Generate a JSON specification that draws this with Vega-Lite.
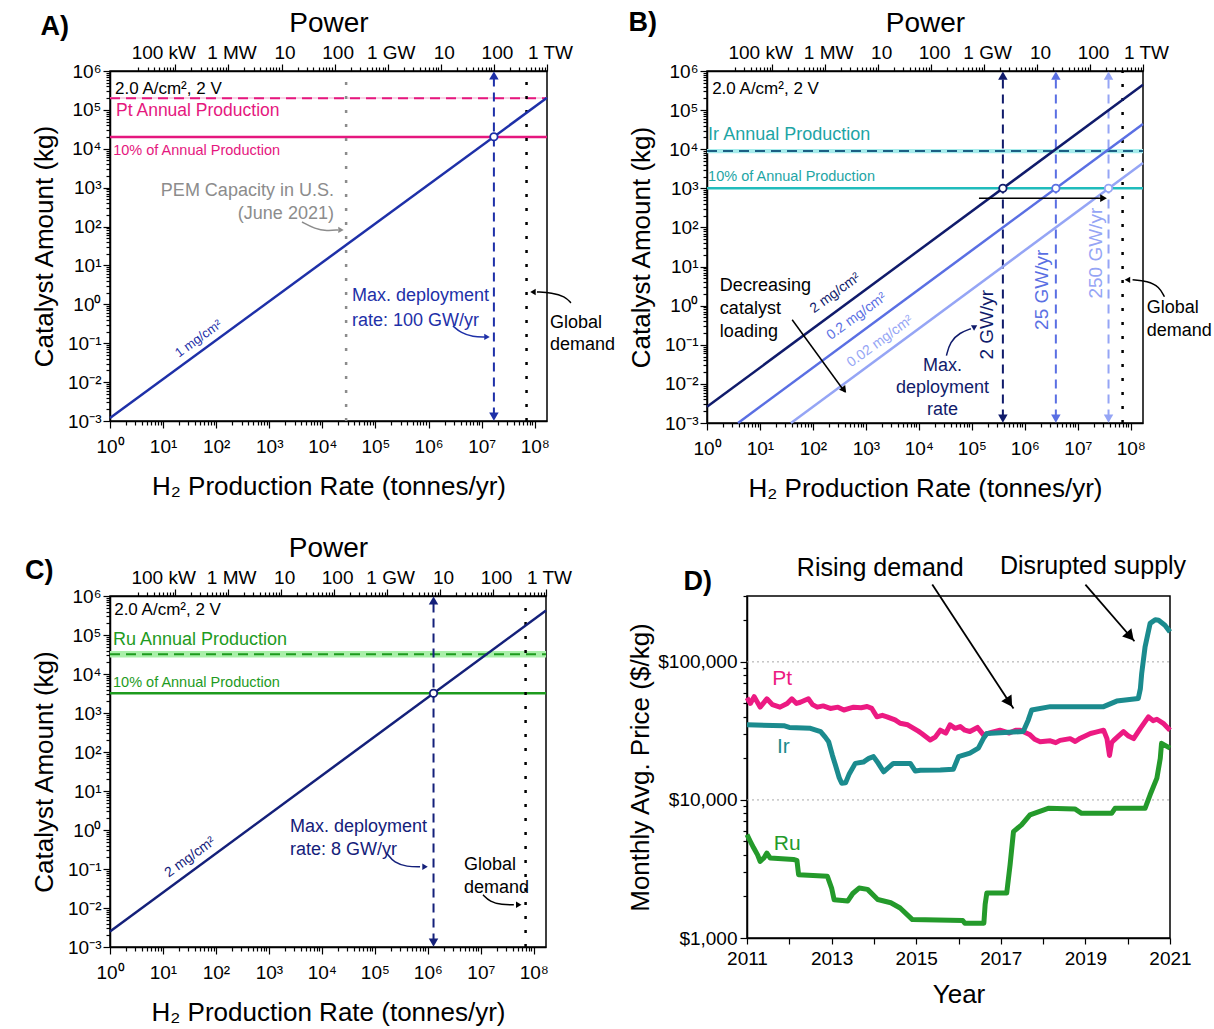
{
"$schema": "https://vega.github.io/schema/vega-lite/v6.json",
"background": "white",
"padding": {"left": 24, "top": 8, "right": 0, "bottom": 2},
"columns": 2,
"spacing": {"row": 31, "column": 11},
"align": {"row": "each", "column": "none"},
"bounds": "full",
"resolve": {"scale": {"color": "independent", "stroke": "independent"}},
"config": {
  "font": "Liberation Sans",
  "view": {"stroke": "black", "strokeWidth": 1.5},
  "axis": {"labelFont": "Liberation Sans", "titleFont": "Liberation Sans", "labelFontSize": 19, "titleFontSize": 26, "titleFontWeight": "normal", "labelColor": "black", "titleColor": "black", "domainColor": "black", "tickColor": "black", "domainWidth": 1.5, "tickWidth": 1.2, "grid": false},
  "text": {"font": "Liberation Sans"}
},
"concat": [
{
 "width": 437, "height": 350,
 "resolve": {"axis": {"x": "independent"}},
 "encoding": {
  "x": {"field": "x", "type": "quantitative", "scale": {"type": "log", "domain": [1, 170000000], "nice": false}, "axis": null},
  "y": {"field": "y", "type": "quantitative", "scale": {"type": "log", "domain": [0.001, 1000000], "nice": false},
        "axis": {"title": "Catalyst Amount (kg)", "values": [0.001,0.002,0.003,0.004,0.005,0.006,0.007,0.008,0.009,0.01,0.02,0.03,0.04,0.05,0.06,0.07,0.08,0.09,0.1,0.2,0.3,0.4,0.5,0.6,0.7,0.8,0.9,1,2,3,4,5,6,7,8,9,10,20,30,40,50,60,70,80,90,100,200,300,400,500,600,700,800,900,1000,2000,3000,4000,5000,6000,7000,8000,9000,10000,20000,30000,40000,50000,60000,70000,80000,90000,100000,200000,300000,400000,500000,600000,700000,800000,900000,1000000],
          "labelExpr": "abs(log(datum.value)/LN10-round(log(datum.value)/LN10))<0.001 ? '10'+(datum.value<0.9?'⁻':'')+['⁰','¹','²','³','⁴','⁵','⁶','⁷','⁸','⁹'][abs(round(log(datum.value)/LN10))] : ''",
          "tickSize": {"condition": {"test": "abs(log(datum.value)/LN10-round(log(datum.value)/LN10))<0.001", "value": 7}, "value": 4},
          "labelOverlap": false, "labelFlush": false, "labelPadding": 2, "titlePadding": 10}}
 },
 "layer": [
  {"data": {"values": [{"x": 1, "x2": 170000000, "y": 190000, "y2": 215000}]},
   "mark": {"type": "rect", "color": "#f8d3e6"},
   "encoding": {"x": {"field": "x", "type": "quantitative", "scale": {"type": "log", "domain": [1, 170000000], "nice": false},
      "axis": {"orient": "bottom", "title": "H₂ Production Rate (tonnes/yr)", "values": [1,2,3,4,5,6,7,8,9,10,20,30,40,50,60,70,80,90,100,200,300,400,500,600,700,800,900,1000,2000,3000,4000,5000,6000,7000,8000,9000,10000,20000,30000,40000,50000,60000,70000,80000,90000,100000,200000,300000,400000,500000,600000,700000,800000,900000,1000000,2000000,3000000,4000000,5000000,6000000,7000000,8000000,9000000,10000000,20000000,30000000,40000000,50000000,60000000,70000000,80000000,90000000,100000000],
        "labelExpr": "abs(log(datum.value)/LN10-round(log(datum.value)/LN10))<0.001 ? '10'+(datum.value<0.9?'⁻':'')+['⁰','¹','²','³','⁴','⁵','⁶','⁷','⁸','⁹'][abs(round(log(datum.value)/LN10))] : ''",
        "tickSize": {"condition": {"test": "abs(log(datum.value)/LN10-round(log(datum.value)/LN10))<0.001", "value": 7}, "value": 4},
        "labelOverlap": false, "labelFlush": false, "labelPadding": 9, "titlePadding": 17}},
     "x2": {"field": "x2"}, "y2": {"field": "y2"}}},
  {"data": {"values": [{"x": 1, "x2": 170000000, "y": 200000}]},
   "mark": {"type": "rule", "color": "#e5177e", "strokeWidth": 2, "strokeDash": [10, 6]},
   "encoding": {"x2": {"field": "x2"}}},
  {"data": {"values": [{"x": 1, "x2": 170000000, "y": 20000}]},
   "mark": {"type": "rule", "color": "#e5177e", "strokeWidth": 2.5},
   "encoding": {"x2": {"field": "x2"}}},
  {"data": {"values": [{"x": 28000, "y": 0.001, "y2": 1000000}]},
   "mark": {"type": "rule", "color": "#8c8c8c", "strokeWidth": 2.5, "strokeDash": [3, 11]},
   "encoding": {"y2": {"field": "y2"}}},
  {"data": {"values": [{"x": 70000000, "y": 0.001, "y2": 1000000}]},
   "mark": {"type": "rule", "color": "#000000", "strokeWidth": 2.5, "strokeDash": [3, 11]},
   "encoding": {"y2": {"field": "y2"}}},
  {"data": {"values": [{"x": 17000000, "y": 0.0013, "y2": 766000}]},
   "mark": {"type": "rule", "color": "#1e30a8", "strokeWidth": 2, "strokeDash": [9, 6]},
   "encoding": {"y2": {"field": "y2"}}},
  {"data": {"values": [{"x": 17000000, "y": 766000}]},
   "mark": {"type": "point", "shape": "triangle-up", "filled": true, "color": "#1e30a8", "size": 90, "opacity": 1}},
  {"data": {"values": [{"x": 17000000, "y": 0.0013}]},
   "mark": {"type": "point", "shape": "triangle-down", "filled": true, "color": "#1e30a8", "size": 90, "opacity": 1}},
  {"data": {"values": [{"x": 1, "y": 0.0012}, {"x": 170000000, "y": 204000}]},
   "mark": {"type": "line", "color": "#1e30a8", "strokeWidth": 2.5},
   "encoding": {"x": {"field": "x", "type": "quantitative", "scale": {"type": "log", "domain": [1, 170000000], "nice": false},
      "axis": {"orient": "top", "title": "Power", "titleFontSize": 28, "values": [3.4,5.1,6.8,8.5,10.2,11.9,13.6,15.3,17,34,51,68,85,102,119,136,153,170,340,510,680,850,1020,1190,1360,1530,1700,3400,5100,6800,8500,10200,11900,13600,15300,17000,34000,51000,68000,85000,102000,119000,136000,153000,170000,340000,510000,680000,850000,1020000,1190000,1360000,1530000,1700000,3400000,5100000,6800000,8500000,10200000,11900000,13600000,15300000,17000000,34000000,51000000,68000000,85000000,102000000,119000000,136000000,153000000,170000000],
        "labelExpr": "datum.value==17?'100 kW':datum.value==170?'1 MW':datum.value==1700?'10':datum.value==17000?'100':datum.value==170000?'1 GW':datum.value==1700000?'10':datum.value==17000000?'100':datum.value==170000000?'1 TW':''",
        "tickSize": {"condition": {"test": "indexof([17,170,1700,17000,170000,1700000,17000000,170000000], datum.value) >= 0", "value": 7}, "value": 4},
        "labelOffset": {"condition": {"test": "datum.value == 17", "value": -12}, "value": 3},
        "labelOverlap": false, "labelFlush": false, "labelPadding": 2, "titlePadding": 6}}}},
  {"data": {"values": [{"x": 17000000, "y": 20400}]},
   "mark": {"type": "point", "shape": "circle", "filled": true, "fill": "white", "stroke": "#1e30a8", "strokeWidth": 1.8, "size": 55, "opacity": 1}},
  {"data": {"values": [{"x": 4130, "y": 131}, {"x": 7260, "y": 86.8}, {"x": 12200, "y": 77}, {"x": 19700, "y": 81.8}]},
   "mark": {"type": "line", "color": "#8c8c8c", "strokeWidth": 1.5, "interpolate": "basis"}},
  {"data": {"values": [{"x": 22400, "y": 81.8}]},
   "mark": {"type": "point", "shape": "triangle-right", "filled": true, "color": "#8c8c8c", "size": 40, "opacity": 1}},
  {"data": {"values": [{"x": 2880000, "y": 0.279}, {"x": 4070000, "y": 0.184}, {"x": 6860000, "y": 0.145}, {"x": 11500000, "y": 0.145}]},
   "mark": {"type": "line", "color": "#1e30a8", "strokeWidth": 1.5, "interpolate": "basis"}},
  {"data": {"values": [{"x": 12600000, "y": 0.145}]},
   "mark": {"type": "point", "shape": "triangle-right", "filled": true, "color": "#1e30a8", "size": 40, "opacity": 1}},
  {"data": {"values": [{"x": 480000000, "y": 1.09}, {"x": 370000000, "y": 1.6}, {"x": 210000000, "y": 2.0}, {"x": 110000000, "y": 2.08}]},
   "mark": {"type": "line", "color": "#000000", "strokeWidth": 1.5, "interpolate": "basis"}},
  {"data": {"values": [{"x": 92500000, "y": 2.08}]},
   "mark": {"type": "point", "shape": "triangle-left", "filled": true, "color": "#000000", "size": 40, "opacity": 1}},
  {"data": {"values": [{"x": 0.049, "y": 13500000, "t": "A)"}]},
   "mark": {"type": "text", "align": "left", "baseline": "middle", "fontSize": 27, "fontWeight": "bold", "color": "black"},
   "encoding": {"text": {"field": "t"}}},
  {"data": {"values": [{"x": 1.24, "y": 350000, "t": "2.0 A/cm², 2 V"}]},
   "mark": {"type": "text", "align": "left", "baseline": "middle", "fontSize": 17, "color": "black"},
   "encoding": {"text": {"field": "t"}}},
  {"data": {"values": [{"x": 1.3, "y": 94000, "t": "Pt Annual Production"}]},
   "mark": {"type": "text", "align": "left", "baseline": "middle", "fontSize": 17.5, "color": "#e5177e"},
   "encoding": {"text": {"field": "t"}}},
  {"data": {"values": [{"x": 1.15, "y": 8800, "t": "10% of Annual Production"}]},
   "mark": {"type": "text", "align": "left", "baseline": "middle", "fontSize": 14.5, "color": "#e5177e"},
   "encoding": {"text": {"field": "t"}}},
  {"data": {"values": [{"x": 16500, "y": 822, "t": "PEM Capacity in U.S.\n(June 2021)"}]},
   "mark": {"type": "text", "align": "right", "baseline": "middle", "fontSize": 18, "lineHeight": 23, "lineBreak": "\n", "color": "#8c8c8c"},
   "encoding": {"text": {"field": "t"}}},
  {"data": {"values": [{"x": 36000, "y": 1.64, "t": "Max. deployment\nrate: 100 GW/yr"}]},
   "mark": {"type": "text", "align": "left", "baseline": "middle", "fontSize": 18, "lineHeight": 25, "lineBreak": "\n", "color": "#1e30a8"},
   "encoding": {"text": {"field": "t"}}},
  {"data": {"values": [{"x": 193000000, "y": 0.33, "t": "Global\ndemand"}]},
   "mark": {"type": "text", "align": "left", "baseline": "middle", "fontSize": 18, "lineHeight": 22, "lineBreak": "\n", "color": "black"},
   "encoding": {"text": {"field": "t"}}},
  {"data": {"values": [{"x": 46.4, "y": 0.131, "t": "1 mg/cm²"}]},
   "mark": {"type": "text", "align": "center", "baseline": "middle", "fontSize": 13, "angle": 324, "color": "#1e30a8"},
   "encoding": {"text": {"field": "t"}}}
 ]
},
{
 "width": 436, "height": 352,
 "resolve": {"axis": {"x": "independent"}},
 "encoding": {
  "x": {"field": "x", "type": "quantitative", "scale": {"type": "log", "domain": [1, 170000000], "nice": false}, "axis": null},
  "y": {"field": "y", "type": "quantitative", "scale": {"type": "log", "domain": [0.001, 1000000], "nice": false},
        "axis": {"title": "Catalyst Amount (kg)", "values": [0.001,0.002,0.003,0.004,0.005,0.006,0.007,0.008,0.009,0.01,0.02,0.03,0.04,0.05,0.06,0.07,0.08,0.09,0.1,0.2,0.3,0.4,0.5,0.6,0.7,0.8,0.9,1,2,3,4,5,6,7,8,9,10,20,30,40,50,60,70,80,90,100,200,300,400,500,600,700,800,900,1000,2000,3000,4000,5000,6000,7000,8000,9000,10000,20000,30000,40000,50000,60000,70000,80000,90000,100000,200000,300000,400000,500000,600000,700000,800000,900000,1000000],
          "labelExpr": "abs(log(datum.value)/LN10-round(log(datum.value)/LN10))<0.001 ? '10'+(datum.value<0.9?'⁻':'')+['⁰','¹','²','³','⁴','⁵','⁶','⁷','⁸','⁹'][abs(round(log(datum.value)/LN10))] : ''",
          "tickSize": {"condition": {"test": "abs(log(datum.value)/LN10-round(log(datum.value)/LN10))<0.001", "value": 7}, "value": 4},
          "labelOverlap": false, "labelFlush": false, "labelPadding": 2, "titlePadding": 10}}
 },
 "layer": [
  {"data": {"values": [{"x": 1, "x2": 170000000, "y": 7900, "y2": 10200}]},
   "mark": {"type": "rect", "color": "#a6ecec"},
   "encoding": {"x": {"field": "x", "type": "quantitative", "scale": {"type": "log", "domain": [1, 170000000], "nice": false},
      "axis": {"orient": "bottom", "title": "H₂ Production Rate (tonnes/yr)", "values": [1,2,3,4,5,6,7,8,9,10,20,30,40,50,60,70,80,90,100,200,300,400,500,600,700,800,900,1000,2000,3000,4000,5000,6000,7000,8000,9000,10000,20000,30000,40000,50000,60000,70000,80000,90000,100000,200000,300000,400000,500000,600000,700000,800000,900000,1000000,2000000,3000000,4000000,5000000,6000000,7000000,8000000,9000000,10000000,20000000,30000000,40000000,50000000,60000000,70000000,80000000,90000000,100000000],
        "labelExpr": "abs(log(datum.value)/LN10-round(log(datum.value)/LN10))<0.001 ? '10'+(datum.value<0.9?'⁻':'')+['⁰','¹','²','³','⁴','⁵','⁶','⁷','⁸','⁹'][abs(round(log(datum.value)/LN10))] : ''",
        "tickSize": {"condition": {"test": "abs(log(datum.value)/LN10-round(log(datum.value)/LN10))<0.001", "value": 7}, "value": 4},
        "labelOverlap": false, "labelFlush": false, "labelPadding": 9, "titlePadding": 17}},
     "x2": {"field": "x2"}, "y2": {"field": "y2"}}},
  {"data": {"values": [{"x": 1, "x2": 170000000, "y": 9000}]},
   "mark": {"type": "rule", "color": "#1c5f84", "strokeWidth": 2, "strokeDash": [10, 6]},
   "encoding": {"x2": {"field": "x2"}}},
  {"data": {"values": [{"x": 1, "x2": 170000000, "y": 1000}]},
   "mark": {"type": "rule", "color": "#20bcbc", "strokeWidth": 2.5},
   "encoding": {"x2": {"field": "x2"}}},
  {"data": {"values": [{"x": 70000000, "y": 0.001, "y2": 1000000}]},
   "mark": {"type": "rule", "color": "#000000", "strokeWidth": 2.5, "strokeDash": [3, 11]},
   "encoding": {"y2": {"field": "y2"}}},
  {"data": {"values": [{"x": 385000, "y": 0.0013, "y2": 766000, "s": "a"}, {"x": 3850000, "y": 0.0013, "y2": 766000, "s": "b"}, {"x": 38000000, "y": 0.0013, "y2": 766000, "s": "c"}]},
   "mark": {"type": "rule", "strokeWidth": 2, "strokeDash": [9, 6]},
   "encoding": {"y2": {"field": "y2"}, "color": {"field": "s", "type": "nominal", "scale": {"domain": ["a", "b", "c"], "range": ["#101b6b", "#5a6fe3", "#95a5f5"]}, "legend": null}}},
  {"data": {"values": [{"x": 385000, "y": 766000, "s": "a"}, {"x": 3850000, "y": 766000, "s": "b"}, {"x": 38000000, "y": 766000, "s": "c"}]},
   "mark": {"type": "point", "shape": "triangle-up", "filled": true, "size": 90, "opacity": 1},
   "encoding": {"color": {"field": "s", "type": "nominal", "scale": {"domain": ["a", "b", "c"], "range": ["#101b6b", "#5a6fe3", "#95a5f5"]}, "legend": null}}},
  {"data": {"values": [{"x": 385000, "y": 0.0013, "s": "a"}, {"x": 3850000, "y": 0.0013, "s": "b"}, {"x": 38000000, "y": 0.0013, "s": "c"}]},
   "mark": {"type": "point", "shape": "triangle-down", "filled": true, "size": 90, "opacity": 1},
   "encoding": {"color": {"field": "s", "type": "nominal", "scale": {"domain": ["a", "b", "c"], "range": ["#101b6b", "#5a6fe3", "#95a5f5"]}, "legend": null}}},
  {"data": {"values": [{"x": 1, "y": 0.0026, "s": "a"}, {"x": 170000000, "y": 442000, "s": "a"}, {"x": 3.85, "y": 0.001, "s": "b"}, {"x": 170000000, "y": 44200, "s": "b"}, {"x": 38.5, "y": 0.001, "s": "c"}, {"x": 170000000, "y": 4420, "s": "c"}]},
   "mark": {"type": "line", "strokeWidth": 2.5},
   "encoding": {"color": {"field": "s", "type": "nominal", "scale": {"domain": ["a", "b", "c"], "range": ["#101b6b", "#5a6fe3", "#95a5f5"]}, "legend": null},
     "x": {"field": "x", "type": "quantitative", "scale": {"type": "log", "domain": [1, 170000000], "nice": false},
      "axis": {"orient": "top", "title": "Power", "titleFontSize": 28, "values": [3.4,5.1,6.8,8.5,10.2,11.9,13.6,15.3,17,34,51,68,85,102,119,136,153,170,340,510,680,850,1020,1190,1360,1530,1700,3400,5100,6800,8500,10200,11900,13600,15300,17000,34000,51000,68000,85000,102000,119000,136000,153000,170000,340000,510000,680000,850000,1020000,1190000,1360000,1530000,1700000,3400000,5100000,6800000,8500000,10200000,11900000,13600000,15300000,17000000,34000000,51000000,68000000,85000000,102000000,119000000,136000000,153000000,170000000],
        "labelExpr": "datum.value==17?'100 kW':datum.value==170?'1 MW':datum.value==1700?'10':datum.value==17000?'100':datum.value==170000?'1 GW':datum.value==1700000?'10':datum.value==17000000?'100':datum.value==170000000?'1 TW':''",
        "tickSize": {"condition": {"test": "indexof([17,170,1700,17000,170000,1700000,17000000,170000000], datum.value) >= 0", "value": 7}, "value": 4},
        "labelOffset": {"condition": {"test": "datum.value == 17", "value": -12}, "value": 3},
        "labelOverlap": false, "labelFlush": false, "labelPadding": 2, "titlePadding": 6}}}},
  {"data": {"values": [{"x": 385000, "y": 1000, "s": "a"}, {"x": 3850000, "y": 1000, "s": "b"}, {"x": 38000000, "y": 1000, "s": "c"}]},
   "mark": {"type": "point", "shape": "circle", "filled": true, "fill": "white", "strokeWidth": 1.8, "size": 55, "opacity": 1},
   "encoding": {"stroke": {"field": "s", "type": "nominal", "scale": {"domain": ["a", "b", "c"], "range": ["#101b6b", "#5a6fe3", "#95a5f5"]}, "legend": null}}},
  {"data": {"values": [{"x": 136000, "y": 560, "x2": 30000000}]},
   "mark": {"type": "rule", "color": "black", "strokeWidth": 1.5},
   "encoding": {"x2": {"field": "x2"}}},
  {"data": {"values": [{"x": 30600000, "y": 560}]},
   "mark": {"type": "point", "shape": "triangle-right", "filled": true, "color": "black", "size": 60, "opacity": 1}},
  {"data": {"values": [{"x": 40.5, "y": 0.436, "x2": 400, "y2": 0.0062}]},
   "mark": {"type": "rule", "color": "black", "strokeWidth": 1.5},
   "encoding": {"x2": {"field": "x2"}, "y2": {"field": "y2"}}},
  {"data": {"values": [{"x": 388, "y": 0.00695}]},
   "mark": {"type": "point", "shape": "triangle-up", "filled": true, "color": "black", "size": 60, "angle": 143, "opacity": 1}},
  {"data": {"values": [{"x": 33100, "y": 0.0527}, {"x": 38600, "y": 0.12}, {"x": 59400, "y": 0.204}, {"x": 95800, "y": 0.258}]},
   "mark": {"type": "line", "color": "#101b6b", "strokeWidth": 1.5, "interpolate": "basis"}},
  {"data": {"values": [{"x": 114000, "y": 0.29}]},
   "mark": {"type": "point", "shape": "triangle-up", "filled": true, "color": "#101b6b", "size": 40, "angle": 60, "opacity": 1}},
  {"data": {"values": [{"x": 431000000, "y": 1.69}, {"x": 347000000, "y": 3.03}, {"x": 206000000, "y": 4.32}, {"x": 108000000, "y": 4.58}]},
   "mark": {"type": "line", "color": "black", "strokeWidth": 1.5, "interpolate": "basis"}},
  {"data": {"values": [{"x": 86500000, "y": 4.58}]},
   "mark": {"type": "point", "shape": "triangle-left", "filled": true, "color": "black", "size": 40, "opacity": 1}},
  {"data": {"values": [{"x": 0.033, "y": 17000000, "t": "B)"}]},
   "mark": {"type": "text", "align": "left", "baseline": "middle", "fontSize": 27, "fontWeight": "bold", "color": "black"},
   "encoding": {"text": {"field": "t"}}},
  {"data": {"values": [{"x": 1.25, "y": 355000, "t": "2.0 A/cm², 2 V"}]},
   "mark": {"type": "text", "align": "left", "baseline": "middle", "fontSize": 17, "color": "black"},
   "encoding": {"text": {"field": "t"}}},
  {"data": {"values": [{"x": 1.05, "y": 23000, "t": "Ir Annual Production"}]},
   "mark": {"type": "text", "align": "left", "baseline": "middle", "fontSize": 18, "color": "#1ea5a5"},
   "encoding": {"text": {"field": "t"}}},
  {"data": {"values": [{"x": 1.05, "y": 1980, "t": "10% of Annual Production"}]},
   "mark": {"type": "text", "align": "left", "baseline": "middle", "fontSize": 14.5, "color": "#1ea5a5"},
   "encoding": {"text": {"field": "t"}}},
  {"data": {"values": [{"x": 1.75, "y": 3.2, "t": "Decreasing\ncatalyst\nloading"}]},
   "mark": {"type": "text", "align": "left", "baseline": "middle", "fontSize": 18, "lineHeight": 23, "lineBreak": "\n", "color": "black"},
   "encoding": {"text": {"field": "t"}}},
  {"data": {"values": [{"x": 28000, "y": 0.0281, "t": "Max.\ndeployment\nrate"}]},
   "mark": {"type": "text", "align": "center", "baseline": "middle", "fontSize": 18, "lineHeight": 22, "lineBreak": "\n", "color": "#101b6b"},
   "encoding": {"text": {"field": "t"}}},
  {"data": {"values": [{"x": 200000000, "y": 0.85, "t": "Global\ndemand"}]},
   "mark": {"type": "text", "align": "left", "baseline": "middle", "fontSize": 18, "lineHeight": 23, "lineBreak": "\n", "color": "black"},
   "encoding": {"text": {"field": "t"}}},
  {"data": {"values": [{"x": 197000, "y": 0.326, "t": "2 GW/yr", "s": "a"}, {"x": 2100000, "y": 2.55, "t": "25 GW/yr", "s": "b"}, {"x": 22000000, "y": 22, "t": "250 GW/yr", "s": "c"}]},
   "mark": {"type": "text", "align": "center", "baseline": "middle", "fontSize": 19, "angle": 270},
   "encoding": {"text": {"field": "t"}, "color": {"field": "s", "type": "nominal", "scale": {"domain": ["a", "b", "c"], "range": ["#101b6b", "#5a6fe3", "#95a5f5"]}, "legend": null}}},
  {"data": {"values": [{"x": 263, "y": 2.1, "t": "2 mg/cm²", "s": "a"}, {"x": 668, "y": 0.53, "t": "0.2 mg/cm²", "s": "b"}, {"x": 1850, "y": 0.122, "t": "0.02 mg/cm²", "s": "c"}]},
   "mark": {"type": "text", "align": "center", "baseline": "middle", "fontSize": 14, "angle": 324},
   "encoding": {"text": {"field": "t"}, "color": {"field": "s", "type": "nominal", "scale": {"domain": ["a", "b", "c"], "range": ["#101b6b", "#5a6fe3", "#95a5f5"]}, "legend": null}}}
 ]
},
{
 "width": 436, "height": 351,
 "resolve": {"axis": {"x": "independent"}},
 "encoding": {
  "x": {"field": "x", "type": "quantitative", "scale": {"type": "log", "domain": [1, 170000000], "nice": false}, "axis": null},
  "y": {"field": "y", "type": "quantitative", "scale": {"type": "log", "domain": [0.001, 1000000], "nice": false},
        "axis": {"title": "Catalyst Amount (kg)", "values": [0.001,0.002,0.003,0.004,0.005,0.006,0.007,0.008,0.009,0.01,0.02,0.03,0.04,0.05,0.06,0.07,0.08,0.09,0.1,0.2,0.3,0.4,0.5,0.6,0.7,0.8,0.9,1,2,3,4,5,6,7,8,9,10,20,30,40,50,60,70,80,90,100,200,300,400,500,600,700,800,900,1000,2000,3000,4000,5000,6000,7000,8000,9000,10000,20000,30000,40000,50000,60000,70000,80000,90000,100000,200000,300000,400000,500000,600000,700000,800000,900000,1000000],
          "labelExpr": "abs(log(datum.value)/LN10-round(log(datum.value)/LN10))<0.001 ? '10'+(datum.value<0.9?'⁻':'')+['⁰','¹','²','³','⁴','⁵','⁶','⁷','⁸','⁹'][abs(round(log(datum.value)/LN10))] : ''",
          "tickSize": {"condition": {"test": "abs(log(datum.value)/LN10-round(log(datum.value)/LN10))<0.001", "value": 7}, "value": 4},
          "labelOverlap": false, "labelFlush": false, "labelPadding": 2, "titlePadding": 10}}
 },
 "layer": [
  {"data": {"values": [{"x": 1, "x2": 170000000, "y": 26500, "y2": 39000}]},
   "mark": {"type": "rect", "color": "#aaf0aa"},
   "encoding": {"x": {"field": "x", "type": "quantitative", "scale": {"type": "log", "domain": [1, 170000000], "nice": false},
      "axis": {"orient": "bottom", "title": "H₂ Production Rate (tonnes/yr)", "values": [1,2,3,4,5,6,7,8,9,10,20,30,40,50,60,70,80,90,100,200,300,400,500,600,700,800,900,1000,2000,3000,4000,5000,6000,7000,8000,9000,10000,20000,30000,40000,50000,60000,70000,80000,90000,100000,200000,300000,400000,500000,600000,700000,800000,900000,1000000,2000000,3000000,4000000,5000000,6000000,7000000,8000000,9000000,10000000,20000000,30000000,40000000,50000000,60000000,70000000,80000000,90000000,100000000],
        "labelExpr": "abs(log(datum.value)/LN10-round(log(datum.value)/LN10))<0.001 ? '10'+(datum.value<0.9?'⁻':'')+['⁰','¹','²','³','⁴','⁵','⁶','⁷','⁸','⁹'][abs(round(log(datum.value)/LN10))] : ''",
        "tickSize": {"condition": {"test": "abs(log(datum.value)/LN10-round(log(datum.value)/LN10))<0.001", "value": 7}, "value": 4},
        "labelOverlap": false, "labelFlush": false, "labelPadding": 9, "titlePadding": 17}},
     "x2": {"field": "x2"}, "y2": {"field": "y2"}}},
  {"data": {"values": [{"x": 1, "x2": 170000000, "y": 32000}]},
   "mark": {"type": "rule", "color": "#1e9b1e", "strokeWidth": 2, "strokeDash": [10, 6]},
   "encoding": {"x2": {"field": "x2"}}},
  {"data": {"values": [{"x": 1, "x2": 170000000, "y": 3200}]},
   "mark": {"type": "rule", "color": "#1e9b1e", "strokeWidth": 2.5},
   "encoding": {"x2": {"field": "x2"}}},
  {"data": {"values": [{"x": 70000000, "y": 0.001, "y2": 1000000}]},
   "mark": {"type": "rule", "color": "#000000", "strokeWidth": 2.5, "strokeDash": [3, 11]},
   "encoding": {"y2": {"field": "y2"}}},
  {"data": {"values": [{"x": 1280000, "y": 0.0013, "y2": 766000}]},
   "mark": {"type": "rule", "color": "#14207a", "strokeWidth": 2, "strokeDash": [9, 6]},
   "encoding": {"y2": {"field": "y2"}}},
  {"data": {"values": [{"x": 1280000, "y": 766000}]},
   "mark": {"type": "point", "shape": "triangle-up", "filled": true, "color": "#14207a", "size": 90, "opacity": 1}},
  {"data": {"values": [{"x": 1280000, "y": 0.0013}]},
   "mark": {"type": "point", "shape": "triangle-down", "filled": true, "color": "#14207a", "size": 90, "opacity": 1}},
  {"data": {"values": [{"x": 1, "y": 0.0025}, {"x": 170000000, "y": 425000}]},
   "mark": {"type": "line", "color": "#14207a", "strokeWidth": 2.5},
   "encoding": {"x": {"field": "x", "type": "quantitative", "scale": {"type": "log", "domain": [1, 170000000], "nice": false},
      "axis": {"orient": "top", "title": "Power", "titleFontSize": 28, "values": [3.4,5.1,6.8,8.5,10.2,11.9,13.6,15.3,17,34,51,68,85,102,119,136,153,170,340,510,680,850,1020,1190,1360,1530,1700,3400,5100,6800,8500,10200,11900,13600,15300,17000,34000,51000,68000,85000,102000,119000,136000,153000,170000,340000,510000,680000,850000,1020000,1190000,1360000,1530000,1700000,3400000,5100000,6800000,8500000,10200000,11900000,13600000,15300000,17000000,34000000,51000000,68000000,85000000,102000000,119000000,136000000,153000000,170000000],
        "labelExpr": "datum.value==17?'100 kW':datum.value==170?'1 MW':datum.value==1700?'10':datum.value==17000?'100':datum.value==170000?'1 GW':datum.value==1700000?'10':datum.value==17000000?'100':datum.value==170000000?'1 TW':''",
        "tickSize": {"condition": {"test": "indexof([17,170,1700,17000,170000,1700000,17000000,170000000], datum.value) >= 0", "value": 7}, "value": 4},
        "labelOffset": {"condition": {"test": "datum.value == 17", "value": -12}, "value": 3},
        "labelOverlap": false, "labelFlush": false, "labelPadding": 2, "titlePadding": 6}}}},
  {"data": {"values": [{"x": 1280000, "y": 3200}]},
   "mark": {"type": "point", "shape": "circle", "filled": true, "fill": "white", "stroke": "#14207a", "strokeWidth": 1.8, "size": 55, "opacity": 1}},
  {"data": {"values": [{"x": 171000, "y": 0.245}, {"x": 231000, "y": 0.144}, {"x": 406000, "y": 0.114}, {"x": 713000, "y": 0.114}]},
   "mark": {"type": "line", "color": "#14207a", "strokeWidth": 1.5, "interpolate": "basis"}},
  {"data": {"values": [{"x": 885000, "y": 0.114}]},
   "mark": {"type": "point", "shape": "triangle-right", "filled": true, "color": "#14207a", "size": 40, "opacity": 1}},
  {"data": {"values": [{"x": 11000000, "y": 0.0218}, {"x": 14800000, "y": 0.0145}, {"x": 25000000, "y": 0.0121}, {"x": 42000000, "y": 0.0121}]},
   "mark": {"type": "line", "color": "black", "strokeWidth": 1.5, "interpolate": "basis"}},
  {"data": {"values": [{"x": 52000000, "y": 0.0121}]},
   "mark": {"type": "point", "shape": "triangle-right", "filled": true, "color": "black", "size": 40, "opacity": 1}},
  {"data": {"values": [{"x": 0.0249, "y": 4300000, "t": "C)"}]},
   "mark": {"type": "text", "align": "left", "baseline": "middle", "fontSize": 27, "fontWeight": "bold", "color": "black"},
   "encoding": {"text": {"field": "t"}}},
  {"data": {"values": [{"x": 1.2, "y": 440000, "t": "2.0 A/cm², 2 V"}]},
   "mark": {"type": "text", "align": "left", "baseline": "middle", "fontSize": 17, "color": "black"},
   "encoding": {"text": {"field": "t"}}},
  {"data": {"values": [{"x": 1.14, "y": 75000, "t": "Ru Annual Production"}]},
   "mark": {"type": "text", "align": "left", "baseline": "middle", "fontSize": 18, "color": "#1e9b1e"},
   "encoding": {"text": {"field": "t"}}},
  {"data": {"values": [{"x": 1.14, "y": 5800, "t": "10% of Annual Production"}]},
   "mark": {"type": "text", "align": "left", "baseline": "middle", "fontSize": 14.5, "color": "#1e9b1e"},
   "encoding": {"text": {"field": "t"}}},
  {"data": {"values": [{"x": 2500, "y": 1.2, "t": "Max. deployment\nrate: 8 GW/yr"}]},
   "mark": {"type": "text", "align": "left", "baseline": "middle", "fontSize": 18, "lineHeight": 23, "lineBreak": "\n", "color": "#14207a"},
   "encoding": {"text": {"field": "t"}}},
  {"data": {"values": [{"x": 4800000, "y": 0.13, "t": "Global\ndemand"}]},
   "mark": {"type": "text", "align": "left", "baseline": "middle", "fontSize": 18, "lineHeight": 23, "lineBreak": "\n", "color": "black"},
   "encoding": {"text": {"field": "t"}}},
  {"data": {"values": [{"x": 32.5, "y": 0.2, "t": "2 mg/cm²"}]},
   "mark": {"type": "text", "align": "center", "baseline": "middle", "fontSize": 14, "angle": 324, "color": "#14207a"},
   "encoding": {"text": {"field": "t"}}}
 ]
},
{
 "width": 423, "height": 342,
 "encoding": {
  "x": {"field": "year", "type": "quantitative", "scale": {"domain": [2011, 2021], "nice": false, "zero": false},
        "axis": {"title": "Year", "values": [2011,2012,2013,2014,2015,2016,2017,2018,2019,2020,2021], "labelExpr": "datum.value % 2 == 1 ? format(datum.value, 'd') : ''", "tickSize": 6, "labelFlush": false, "labelOverlap": false, "labelPadding": 5, "titlePadding": 13}},
  "y": {"field": "price", "type": "quantitative", "scale": {"type": "log", "domain": [1000, 300000], "nice": false},
        "axis": {"title": "Monthly Avg. Price ($/kg)", "values": [1000,2000,3000,4000,5000,6000,7000,8000,9000,10000,20000,30000,40000,50000,60000,70000,80000,90000,100000,200000,300000],
          "labelExpr": "datum.value==1000?'$1,000':datum.value==10000?'$10,000':datum.value==100000?'$100,000':''",
          "tickSize": {"condition": {"test": "datum.value==1000||datum.value==10000||datum.value==100000", "value": 7}, "value": 4},
          "labelOverlap": false, "labelFlush": false, "labelPadding": 3, "titlePadding": 4}}
 },
 "layer": [
  {"data": {"values": [{"year": 2011, "year2": 2021, "price": 10000}, {"year": 2011, "year2": 2021, "price": 100000}]},
   "mark": {"type": "rule", "color": "#a8a8a8", "strokeWidth": 1, "strokeDash": [2, 3]},
   "encoding": {"x2": {"field": "year2"}}},
  {"data": {"values": [
    {"m":"Pt","year":2011.0,"price":55000},{"m":"Pt","year":2011.08,"price":50000},{"m":"Pt","year":2011.17,"price":56000},{"m":"Pt","year":2011.31,"price":47000},{"m":"Pt","year":2011.47,"price":54000},{"m":"Pt","year":2011.6,"price":49000},{"m":"Pt","year":2011.78,"price":47000},{"m":"Pt","year":2011.95,"price":50000},{"m":"Pt","year":2012.06,"price":54000},{"m":"Pt","year":2012.17,"price":50000},{"m":"Pt","year":2012.26,"price":51000},{"m":"Pt","year":2012.45,"price":54000},{"m":"Pt","year":2012.55,"price":49000},{"m":"Pt","year":2012.66,"price":47000},{"m":"Pt","year":2012.8,"price":48000},{"m":"Pt","year":2012.97,"price":46000},{"m":"Pt","year":2013.15,"price":47000},{"m":"Pt","year":2013.29,"price":44800},{"m":"Pt","year":2013.52,"price":47000},{"m":"Pt","year":2013.7,"price":46500},{"m":"Pt","year":2013.84,"price":47500},{"m":"Pt","year":2013.95,"price":46000},{"m":"Pt","year":2014.07,"price":40000},{"m":"Pt","year":2014.2,"price":41000},{"m":"Pt","year":2014.31,"price":40000},{"m":"Pt","year":2014.5,"price":38000},{"m":"Pt","year":2014.62,"price":35900},{"m":"Pt","year":2014.8,"price":35000},{"m":"Pt","year":2014.94,"price":33000},{"m":"Pt","year":2015.05,"price":31500},{"m":"Pt","year":2015.13,"price":30300},{"m":"Pt","year":2015.33,"price":27200},{"m":"Pt","year":2015.45,"price":28500},{"m":"Pt","year":2015.57,"price":32000},{"m":"Pt","year":2015.7,"price":30500},{"m":"Pt","year":2015.8,"price":35000},{"m":"Pt","year":2015.92,"price":33000},{"m":"Pt","year":2016.04,"price":34000},{"m":"Pt","year":2016.15,"price":32000},{"m":"Pt","year":2016.27,"price":31300},{"m":"Pt","year":2016.45,"price":33500},{"m":"Pt","year":2016.59,"price":29600},{"m":"Pt","year":2016.8,"price":31000},{"m":"Pt","year":2016.98,"price":32000},{"m":"Pt","year":2017.2,"price":30500},{"m":"Pt","year":2017.35,"price":32000},{"m":"Pt","year":2017.46,"price":32000},{"m":"Pt","year":2017.69,"price":29600},{"m":"Pt","year":2017.8,"price":27500},{"m":"Pt","year":2017.93,"price":26400},{"m":"Pt","year":2018.17,"price":26800},{"m":"Pt","year":2018.3,"price":26000},{"m":"Pt","year":2018.4,"price":27000},{"m":"Pt","year":2018.64,"price":27800},{"m":"Pt","year":2018.76,"price":26500},{"m":"Pt","year":2018.88,"price":28000},{"m":"Pt","year":2019.12,"price":30300},{"m":"Pt","year":2019.25,"price":31000},{"m":"Pt","year":2019.43,"price":32000},{"m":"Pt","year":2019.51,"price":27800},{"m":"Pt","year":2019.57,"price":21000},{"m":"Pt","year":2019.62,"price":26000},{"m":"Pt","year":2019.67,"price":27000},{"m":"Pt","year":2019.78,"price":29000},{"m":"Pt","year":2019.9,"price":31300},{"m":"Pt","year":2020.02,"price":29000},{"m":"Pt","year":2020.14,"price":27800},{"m":"Pt","year":2020.3,"price":33000},{"m":"Pt","year":2020.49,"price":40000},{"m":"Pt","year":2020.6,"price":37500},{"m":"Pt","year":2020.69,"price":38400},{"m":"Pt","year":2020.84,"price":35900},{"m":"Pt","year":2021.0,"price":32000},
    {"m":"Ir","year":2011.0,"price":35000},{"m":"Ir","year":2011.87,"price":34500},{"m":"Ir","year":2012.0,"price":33500},{"m":"Ir","year":2012.5,"price":33000},{"m":"Ir","year":2012.74,"price":31200},{"m":"Ir","year":2012.85,"price":28500},{"m":"Ir","year":2012.93,"price":26400},{"m":"Ir","year":2013.02,"price":21000},{"m":"Ir","year":2013.09,"price":17900},{"m":"Ir","year":2013.18,"price":14500},{"m":"Ir","year":2013.24,"price":13200},{"m":"Ir","year":2013.33,"price":13300},{"m":"Ir","year":2013.42,"price":15500},{"m":"Ir","year":2013.56,"price":18400},{"m":"Ir","year":2013.75,"price":18800},{"m":"Ir","year":2013.88,"price":20000},{"m":"Ir","year":2013.99,"price":20600},{"m":"Ir","year":2014.1,"price":18500},{"m":"Ir","year":2014.23,"price":16000},{"m":"Ir","year":2014.33,"price":17000},{"m":"Ir","year":2014.46,"price":18400},{"m":"Ir","year":2014.86,"price":18400},{"m":"Ir","year":2014.98,"price":16200},{"m":"Ir","year":2015.1,"price":16400},{"m":"Ir","year":2015.57,"price":16500},{"m":"Ir","year":2015.88,"price":16700},{"m":"Ir","year":2016.0,"price":20600},{"m":"Ir","year":2016.27,"price":21800},{"m":"Ir","year":2016.47,"price":23700},{"m":"Ir","year":2016.59,"price":27900},{"m":"Ir","year":2016.67,"price":30300},{"m":"Ir","year":2017.53,"price":31300},{"m":"Ir","year":2017.65,"price":38000},{"m":"Ir","year":2017.73,"price":44800},{"m":"Ir","year":2018.17,"price":47400},{"m":"Ir","year":2019.43,"price":47400},{"m":"Ir","year":2019.74,"price":52000},{"m":"Ir","year":2020.25,"price":54300},{"m":"Ir","year":2020.3,"price":64000},{"m":"Ir","year":2020.33,"price":82000},{"m":"Ir","year":2020.41,"price":128000},{"m":"Ir","year":2020.53,"price":190000},{"m":"Ir","year":2020.65,"price":202000},{"m":"Ir","year":2020.73,"price":200000},{"m":"Ir","year":2020.88,"price":184000},{"m":"Ir","year":2021.0,"price":165000},
    {"m":"Ru","year":2011.0,"price":5600},{"m":"Ru","year":2011.08,"price":5000},{"m":"Ru","year":2011.16,"price":4480},{"m":"Ru","year":2011.25,"price":4000},{"m":"Ru","year":2011.31,"price":3590},{"m":"Ru","year":2011.4,"price":3800},{"m":"Ru","year":2011.47,"price":4120},{"m":"Ru","year":2011.55,"price":3790},{"m":"Ru","year":2012.1,"price":3700},{"m":"Ru","year":2012.18,"price":3650},{"m":"Ru","year":2012.22,"price":2870},{"m":"Ru","year":2012.9,"price":2800},{"m":"Ru","year":2013.0,"price":2300},{"m":"Ru","year":2013.06,"price":1890},{"m":"Ru","year":2013.38,"price":1850},{"m":"Ru","year":2013.5,"price":2100},{"m":"Ru","year":2013.65,"price":2300},{"m":"Ru","year":2013.85,"price":2250},{"m":"Ru","year":2014.09,"price":1900},{"m":"Ru","year":2014.4,"price":1800},{"m":"Ru","year":2014.62,"price":1650},{"m":"Ru","year":2014.91,"price":1360},{"m":"Ru","year":2016.1,"price":1340},{"m":"Ru","year":2016.15,"price":1280},{"m":"Ru","year":2016.6,"price":1280},{"m":"Ru","year":2016.63,"price":1750},{"m":"Ru","year":2016.67,"price":2120},{"m":"Ru","year":2017.14,"price":2120},{"m":"Ru","year":2017.22,"price":3400},{"m":"Ru","year":2017.3,"price":5900},{"m":"Ru","year":2017.49,"price":6600},{"m":"Ru","year":2017.69,"price":7800},{"m":"Ru","year":2018.12,"price":8700},{"m":"Ru","year":2018.75,"price":8600},{"m":"Ru","year":2018.91,"price":8000},{"m":"Ru","year":2019.62,"price":8000},{"m":"Ru","year":2019.7,"price":8700},{"m":"Ru","year":2020.41,"price":8700},{"m":"Ru","year":2020.53,"price":10900},{"m":"Ru","year":2020.69,"price":14400},{"m":"Ru","year":2020.77,"price":20000},{"m":"Ru","year":2020.8,"price":25700},{"m":"Ru","year":2021.0,"price":23700}
   ]},
   "mark": {"type": "line", "strokeWidth": 5, "strokeJoin": "round"},
   "encoding": {"color": {"field": "m", "type": "nominal", "scale": {"domain": ["Pt", "Ir", "Ru"], "range": ["#ec1a82", "#1b8b8e", "#249a2b"]}, "legend": null}}},
  {"data": {"values": [{"m": "Pt", "year": 2011.83, "price": 75500}, {"m": "Ir", "year": 2011.86, "price": 24300}, {"m": "Ru", "year": 2011.95, "price": 4770}]},
   "mark": {"type": "text", "align": "center", "baseline": "middle", "fontSize": 21},
   "encoding": {"text": {"field": "m"}, "color": {"field": "m", "type": "nominal", "scale": {"domain": ["Pt", "Ir", "Ru"], "range": ["#ec1a82", "#1b8b8e", "#249a2b"]}, "legend": null}}},
  {"data": {"values": [{"year": 2015.38, "price": 363000, "year2": 2017.3, "price2": 46000}, {"year": 2019.0, "price": 363000, "year2": 2020.16, "price2": 141000}]},
   "mark": {"type": "rule", "color": "black", "strokeWidth": 1.8},
   "encoding": {"x2": {"field": "year2"}, "y2": {"field": "price2"}}},
  {"data": {"values": [{"year": 2017.2, "price": 51000}]},
   "mark": {"type": "point", "shape": "triangle-up", "filled": true, "color": "black", "size": 150, "angle": 147, "opacity": 1}},
  {"data": {"values": [{"year": 2020.06, "price": 153000}]},
   "mark": {"type": "point", "shape": "triangle-up", "filled": true, "color": "black", "size": 150, "angle": 139, "opacity": 1}},
  {"data": {"values": [{"year": 2009.5, "price": 380000, "t": "D)"}]},
   "mark": {"type": "text", "align": "left", "baseline": "middle", "fontSize": 27, "fontWeight": "bold", "color": "black"},
   "encoding": {"text": {"field": "t"}}},
  {"data": {"values": [{"year": 2014.15, "price": 479000, "t": "Rising demand"}, {"year": 2019.18, "price": 495000, "t": "Disrupted supply"}]},
   "mark": {"type": "text", "align": "center", "baseline": "middle", "fontSize": 25, "color": "black"},
   "encoding": {"text": {"field": "t"}}}
 ]
}
]
}
